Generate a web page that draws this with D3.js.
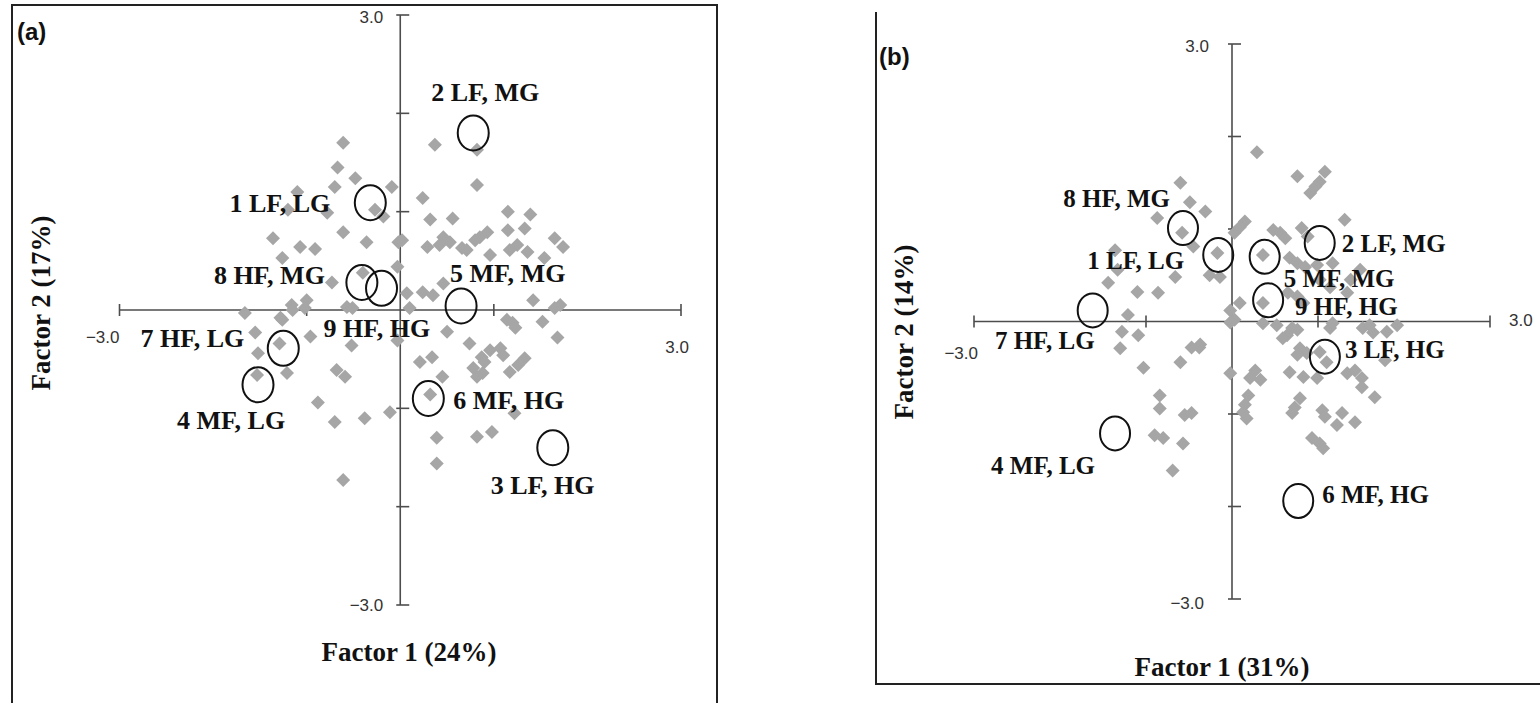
<!DOCTYPE html>
<html>
<head>
<meta charset="utf-8">
<script src="https://cdn.jsdelivr.net/npm/d3@7"></script>
<style>
  body { margin: 0; background: #fff; }
  svg { display: block; }
  .lbl { font-family: "Liberation Serif", "Times New Roman", serif; font-weight: bold; fill: #111; }
  .tick { font-family: "Liberation Sans", Arial, sans-serif; fill: #333; font-size: 17px; }
  .panel { font-family: "Liberation Sans", Arial, sans-serif; font-weight: bold; font-size: 24px; fill: #111; }
</style>
</head>
<body>
<svg id="chart" width="1540" height="703"></svg>
<script>
// group names (same order in both panels)
var groups = ['1 LF, LG', '2 LF, MG', '3 LF, HG', '4 MF, LG', '5 MF, MG', '6 MF, HG', '7 HF, LG', '8 HF, MG', '9 HF, HG'];

// panel (a) group centroids
var grpAx = [-0.32, 0.78, 1.63, -1.52, 0.65, 0.30, -1.25, -0.41, -0.20];
var grpAy = [1.09, 1.80, -1.40, -0.76, 0.04, -0.90, -0.39, 0.28, 0.22];

// panel (b) group centroids
var grpBx = [-0.16, 1.02, 1.08, -1.36, 0.38, 0.77, -1.62, -0.57, 0.42];
var grpBy = [0.72, 0.85, -0.38, -1.21, 0.70, -1.94, 0.12, 1.01, 0.23];

// panel (a) individual scores
var ptsAx = [-0.61, -0.67, -0.48, -0.70, -0.09, -1.10, -0.27, -0.18, -1.20, -0.78, -0.61, -0.36, -0.02, -1.36, -1.07,
  -0.91, -1.26, -0.40, -0.03, -0.73, -1.16, -1.00, -0.57, 0.37, 0.82, 0.82, 0.24, 0.32, 0.56, 1.15, 1.39, 1.15, 1.33,
  0.46, 0.53, 0.42, 0.29, 0.66, 0.71, 0.85, 0.93, 0.80, 1.25, 1.17, 1.65, 1.74, 0.96, 1.36, 0.02, 0.07, 0.24, 0.35,
  0.46, 1.42, 1.71, 1.54, -1.66, -1.26, -1.15, -1.02, -0.51, -1.55, -0.96, -1.29, -1.52, -0.52, -0.03, -1.53, -1.21,
  -0.68, -0.59, -0.88, -0.70, -0.38, -0.11, -0.61, 0.50, 0.74, 0.21, 0.34, 0.96, 0.87, 0.90, 1.14, 1.20, 1.23, 1.52,
  1.68, 1.07, 1.10, 1.33, 1.26, 1.17, 0.78, 0.88, 0.82, 0.45, 0.32, 1.22, 0.39, 0.82, 0.98, 0.39, 1.65, -1.28, 0.10];
var ptsAy = [1.70, 1.45, 1.34, 1.25, 1.25, 1.20, 1.02, 0.95, 1.02, 0.99, 0.79, 0.69, 0.69, 0.73, 0.64,
  0.62, 0.53, 0.38, 0.44, 0.28, 0.05, 0.10, 0.03, 1.68, 1.63, 1.27, 1.14, 0.92, 0.93, 1.00, 0.97, 0.81, 0.83,
  0.74, 0.69, 0.66, 0.64, 0.63, 0.61, 0.74, 0.79, 0.71, 0.66, 0.61, 0.73, 0.64, 0.56, 0.59, 0.71, 0.17, 0.18, 0.15,
  0.27, 0.10, 0.05, 0.53, -0.03, -0.10, 0.00, 0.02, 0.02, -0.23, -0.27, -0.34, -0.44, -0.36, -0.31, -0.66, -0.64,
  -0.61, -0.68, -0.94, -1.14, -1.10, -1.04, -1.73, -0.22, -0.34, -0.53, -0.48, -0.41, -0.48, -0.53, -0.10, -0.13, -0.18, -0.12,
  -0.28, -0.39, -0.46, -0.49, -0.56, -0.63, -0.59, -0.64, -0.68, -0.68, -0.86, -1.05, -1.30, -1.29, -1.24, -1.56, 0.02, -0.08, 0.02];

// panel (b) individual scores
var ptsBx = [-0.60, -0.49, -0.31, -0.87, -0.58, -0.45, -0.17, -0.26, -0.14, -1.36, -1.33, -0.66, -1.44, -1.10, -0.86,
  -1.21, -0.02, 0.29, 0.76, 1.08, 1.02, 0.97, 0.91, 0.15, 1.31, 0.48, 0.56, 0.62, 0.81, 0.88, 0.36, 0.67, 0.76, 0.85,
  0.99, 1.17, 0.09, 0.03, 0.36, 0.09, 0.65, 0.76, 0.83, 1.34, 1.14, 1.02, 1.49, 1.38, -1.28, -1.09, -1.30, -0.47, -0.37,
  -0.60, -1.03, -0.02, -0.02, -0.84, -0.84, -0.55, -0.47, -0.90, -0.80, -0.57, -0.69, 0.03, 0.36, 0.52, 0.70, 0.76,
  0.64, 0.59, 1.14, 1.17, 1.52, 1.64, 1.60, 1.80, 1.92, 0.79, 0.87, 0.76, 1.78, 1.02, 1.10, 0.27, 0.33, 0.21, 0.67,
  0.83, 0.99, 1.34, 1.43, 1.51, 1.51, 1.66, 0.19, 0.15, 0.13, 0.17, 0.79, 0.73, 0.70, 1.05, 1.08, 1.28, 1.22, 1.43,
  0.93, 1.02, 1.06, -0.38];
var ptsBy = [1.50, 1.29, 1.19, 1.12, 0.96, 0.81, 0.74, 0.50, 0.48, 0.77, 0.56, 0.48, 0.42, 0.32, 0.31,
  0.07, 0.12, 1.83, 1.57, 1.62, 1.51, 1.46, 1.39, 1.08, 1.10, 0.99, 0.96, 0.90, 1.01, 0.92, 0.72, 0.69, 0.63, 0.59,
  0.61, 0.63, 1.02, 0.96, 0.20, 0.20, 0.31, 0.27, 0.20, 0.31, 0.37, 0.45, 0.56, 0.45, -0.11, -0.15, -0.29, -0.28, -0.25,
  -0.44, -0.50, -0.01, -0.56, -0.80, -0.94, -1.01, -0.99, -1.23, -1.26, -1.32, -1.61, 0.02, -0.02, -0.04, -0.07, -0.09,
  -0.15, -0.18, -0.07, -0.02, -0.07, -0.12, -0.04, -0.11, -0.04, -0.29, -0.34, -0.36, -0.42, -0.33, -0.44, -0.53, -0.63, -0.61, -0.55,
  -0.60, -0.61, -0.56, -0.53, -0.61, -0.71, -0.82, -0.80, -0.90, -0.98, -1.05, -0.83, -0.93, -0.99, -0.96, -1.03, -0.99, -1.12, -1.09,
  -1.26, -1.32, -1.37, -0.28];

var xTicks = [-3, -1, 1, 3];
var yTicks = [-3, -2, -1, 1, 2, 3];
var tickLabels = ['\u22123.0', '3.0'];
var panelNames = ['(a)', '(b)'];
var xTitles = ['Factor 1 (24%)', 'Factor 1 (31%)'];
var yTitles = ['Factor 2 (17%)', 'Factor 2 (14%)'];

// layout for each panel (pixels)
var panels = [
  {xr: [119.5, 681], yr: [605, 15], gx: grpAx, gy: grpAy, px: ptsAx, py: ptsAy, fs: 26, rx: 15.5, ry: 17.5,
   // label offset from circle centre: dx, dy, anchor
   lab: [[-40, 1, 'end'], [-42, -41, 'start'], [-62, 38, 'start'], [-81, 36, 'start'], [-11, -33, 'start'],
         [25, 2, 'start'], [-39, -10, 'end'], [-37, -7, 'end'], [-58, 40, 'start']],
   name: [17, 31], xt: [409, 652], yt: [41, 303],
   tlTop: [-17, 4], tlBot: [-17, 2], tlLeft: [0, 29, 'end'], tlRight: [8, 39, 'end'],
   frame: 'M12,703 L12,5 L717,5 L717,703'},
  {xr: [974, 1490], yr: [599, 44], gx: grpBx, gy: grpBy, px: ptsBx, py: ptsBy, fs: 25, rx: 15, ry: 17,
   lab: [[-34, 6, 'end'], [22, 1, 'start'], [20, -7, 'start'], [-20, 32, 'end'], [19, 22, 'start'],
         [24, -6, 'start'], [2, 30, 'end'], [-13, -30, 'end'], [27, 6, 'start']],
   name: [879, 56], xt: [1222, 667], yt: [904, 332],
   tlTop: [-23, 4], tlBot: [-28, 6], tlLeft: [4, 33, 'end'], tlRight: [19, 0, 'start'],
   frame: 'M876,12 L876,684 L1540,684'}
];

var svg = d3.select('#chart');
var diamond = d3.symbol().type(d3.symbolSquare).size(98);

panels.forEach(function(p, k) {
  var xs = d3.scaleLinear().domain([-3, 3]).range(p.xr);
  var ys = d3.scaleLinear().domain([-3, 3]).range(p.yr);
  var g = svg.append('g');

  g.append('path').attr('d', p.frame).attr('fill', 'none').attr('stroke', '#222').attr('stroke-width', 2);

  // axes through the origin
  var axc = '#4d4d4d';
  g.append('line').attr('x1', xs(-3)).attr('x2', xs(3)).attr('y1', ys(0)).attr('y2', ys(0))
    .attr('stroke', axc).attr('stroke-width', 1.6);
  g.append('line').attr('x1', xs(0)).attr('x2', xs(0)).attr('y1', ys(-3)).attr('y2', ys(3))
    .attr('stroke', axc).attr('stroke-width', 1.6);
  g.selectAll('.xt').data(xTicks).enter().append('line')
    .attr('x1', function(d) { return xs(d); }).attr('x2', function(d) { return xs(d); })
    .attr('y1', ys(0) - 6).attr('y2', ys(0) + 6).attr('stroke', axc).attr('stroke-width', 1.6);
  g.selectAll('.yt').data(yTicks).enter().append('line')
    .attr('x1', xs(0) - 4).attr('x2', xs(0) + 9)
    .attr('y1', function(d) { return ys(d); }).attr('y2', function(d) { return ys(d); })
    .attr('stroke', axc).attr('stroke-width', 1.6);

  // end tick labels
  g.append('text').attr('class', 'tick').attr('text-anchor', 'end').attr('dominant-baseline', 'middle')
    .attr('x', xs(0) + p.tlTop[0]).attr('y', ys(3) + p.tlTop[1]).text(tickLabels[1]);
  g.append('text').attr('class', 'tick').attr('text-anchor', 'end').attr('dominant-baseline', 'middle')
    .attr('x', xs(0) + p.tlBot[0]).attr('y', ys(-3) + p.tlBot[1]).text(tickLabels[0]);
  g.append('text').attr('class', 'tick').attr('text-anchor', p.tlLeft[2]).attr('dominant-baseline', 'middle')
    .attr('x', xs(-3) + p.tlLeft[0]).attr('y', ys(0) + p.tlLeft[1]).text(tickLabels[0]);
  g.append('text').attr('class', 'tick').attr('text-anchor', p.tlRight[2]).attr('dominant-baseline', 'middle')
    .attr('x', xs(3) + p.tlRight[0]).attr('y', ys(0) + p.tlRight[1]).text(tickLabels[1]);

  // individual points
  g.selectAll('.pt').data(d3.range(p.px.length)).enter().append('path')
    .attr('d', diamond)
    .attr('transform', function(i) { return 'translate(' + xs(p.px[i]) + ',' + ys(p.py[i]) + ') rotate(45)'; })
    .attr('fill', '#a6a6a6');

  // group centroids
  g.selectAll('.grp').data(groups).enter().append('ellipse')
    .attr('cx', function(d, i) { return xs(p.gx[i]); })
    .attr('cy', function(d, i) { return ys(p.gy[i]); })
    .attr('rx', p.rx).attr('ry', p.ry)
    .attr('fill', 'none').attr('stroke', '#111').attr('stroke-width', 2);

  g.selectAll('.gl').data(groups).enter().append('text')
    .attr('class', 'lbl').style('font-size', p.fs + 'px')
    .attr('text-anchor', function(d, i) { return p.lab[i][2]; })
    .attr('dominant-baseline', 'central')
    .attr('x', function(d, i) { return xs(p.gx[i]) + p.lab[i][0]; })
    .attr('y', function(d, i) { return ys(p.gy[i]) + p.lab[i][1]; })
    .text(function(d) { return d; });

  g.append('text').attr('class', 'panel').attr('x', p.name[0]).attr('y', p.name[1])
    .attr('dominant-baseline', 'central').text(panelNames[k]);

  g.append('text').attr('class', 'lbl').style('font-size', '27px').attr('text-anchor', 'middle')
    .attr('dominant-baseline', 'central').attr('x', p.xt[0]).attr('y', p.xt[1]).text(xTitles[k]);
  g.append('text').attr('class', 'lbl').style('font-size', '27px').attr('text-anchor', 'middle')
    .attr('dominant-baseline', 'central')
    .attr('transform', 'translate(' + p.yt[0] + ',' + p.yt[1] + ') rotate(-90)').text(yTitles[k]);
});
</script>
</body>
</html>
